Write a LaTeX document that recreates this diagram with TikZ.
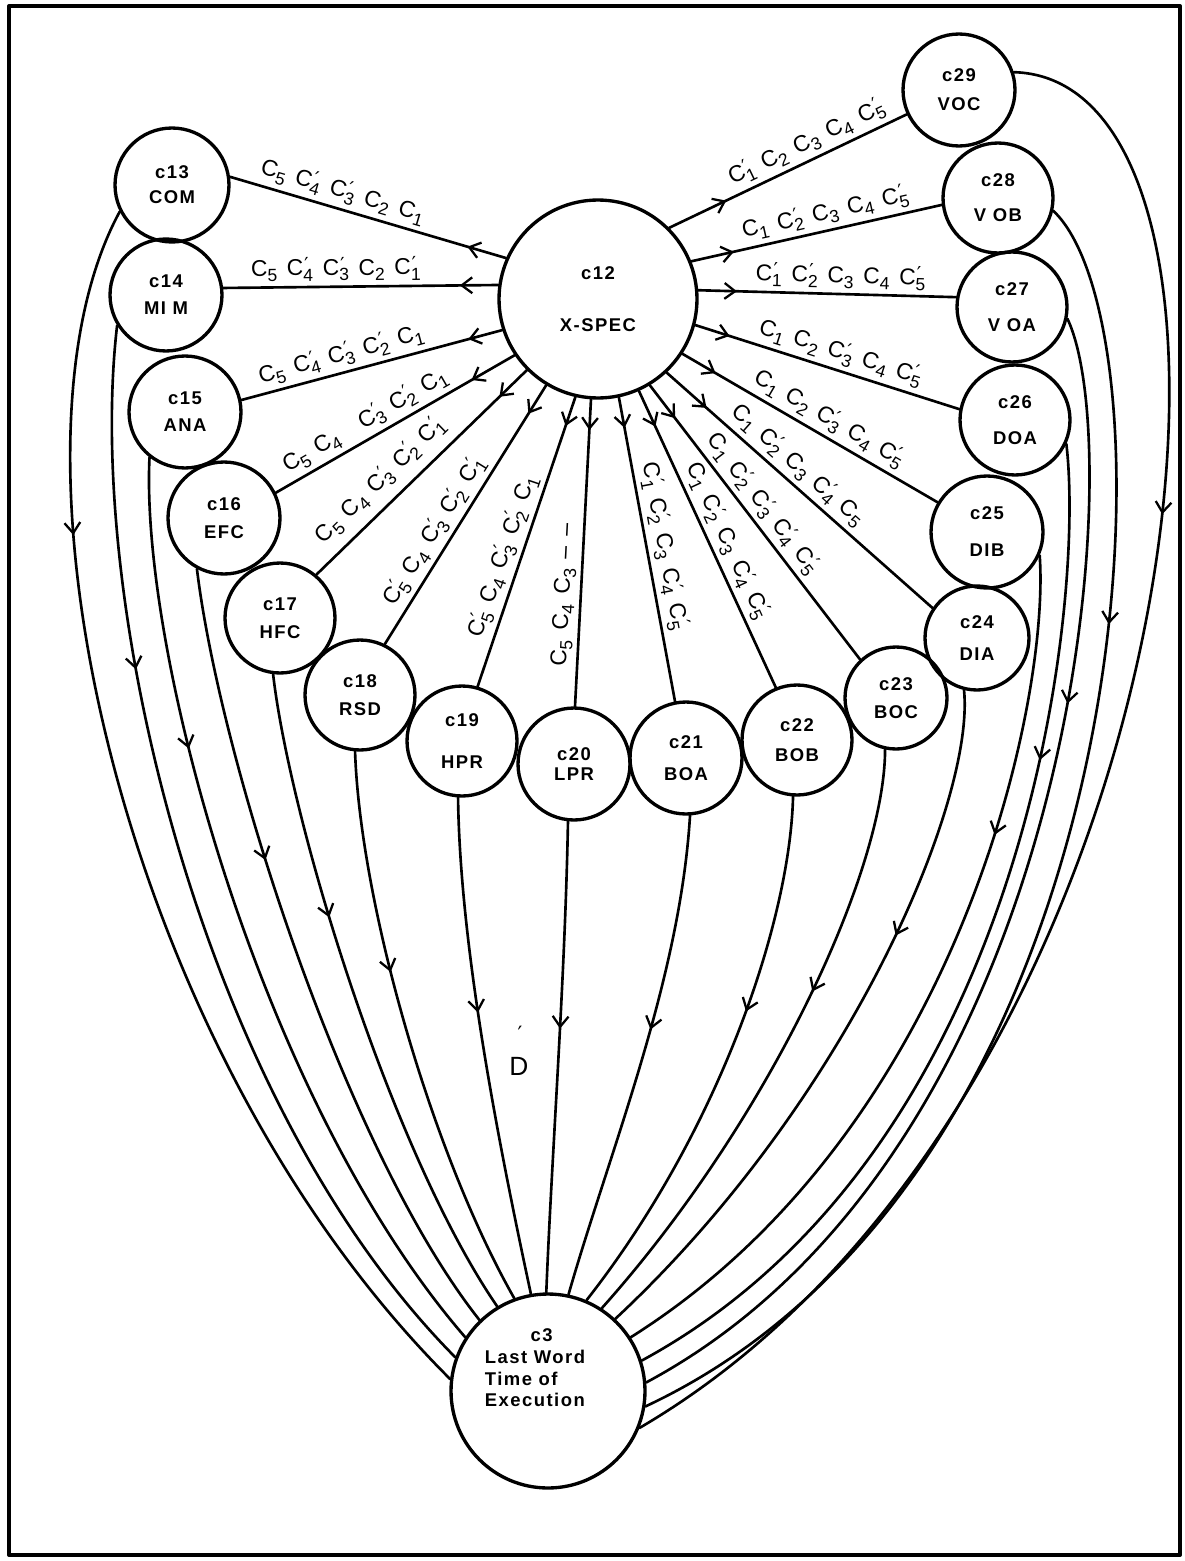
\documentclass[tikz,border=0pt]{standalone}
\usepackage{fontspec}
\setmainfont{Liberation Sans}
\newfontfamily\nodesans{Liberation Sans}[LetterSpace=8]
\newfontfamily\primefont{DejaVu Sans}
\usetikzlibrary{arrows.meta,decorations.markings}

% condition symbols: plain C_i and primed C'_i
\newcommand{\subdig}[1]{\raisebox{-0.45ex}{\fontsize{10}{10}\selectfont #1}}
\newcommand{\Cn}[1]{C\subdig{#1}}
\newcommand{\Cq}[1]{C\rlap{\kern0.6pt\raisebox{0.35ex}{\primefont\fontsize{11}{11}\selectfont\char"2032}}\subdig{#1}}
\newcommand{\lsp}{\hspace{0.42em}}
\newcommand{\twoline}[3]{#1\\[#3]#2}

\tikzset{
  circ/.style={circle, draw, line width=1.9pt, inner sep=0pt, minimum size=#1,
    align=center, font=\nodesans\bfseries\fontsize{10.5}{12}\selectfont},
  barb/.style={postaction={decorate},
    decoration={markings, mark=at position #1 with
      {\arrow{Straight Barb[length=6pt,width=9pt,line width=1.3pt]}}}},
  spoke/.style={line width=1.5pt, barb=#1},
  flow/.style={line width=1.5pt, barb=#1},
  lbl/.style={sloped, above, inner sep=2.5pt, font=\fontsize{13}{15}\selectfont},
}

\begin{document}
\begin{tikzpicture}[x=0.02cm, y=-0.02cm, line cap=round, line join=round]
\useasboundingbox (0,0) rectangle (1185,1561);
\draw[line width=2.3pt] (9,6) rectangle (1180,1555);

% central specification node and the target node
\node[circ=3.96cm] (c12) at (598,299) {\twoline{c12}{X-SPEC}{17.5pt}};
\node[circ=3.88cm] (c3) at (548,1391) {};
\node[font=\nodesans\bfseries\fontsize{10.5}{12.3}\selectfont, align=left]
  (c3text) at (535,1368) {\hspace*{26pt}c3\\Last Word\\Time of\\Execution};

% ring of attribute nodes
\node[circ=2.28cm] (c13) at (172,185) {\twoline{c13}{COM}{2.2pt}};
\node[circ=2.24cm] (c14) at (166,295) {\twoline{c14}{MI M}{3.3pt}};
\node[circ=2.24cm] (c15) at (185,412) {\twoline{c15}{ANA}{3.3pt}};
\node[circ=2.24cm] (c16) at (224,518) {\twoline{c16}{EFC}{3.9pt}};
\node[circ=2.20cm] (c17) at (280,618) {\twoline{c17}{HFC}{3.9pt}};
\node[circ=2.20cm] (c18) at (360,695) {\twoline{c18}{RSD}{3.9pt}};
\node[circ=2.20cm] (c19) at (462,741) {\twoline{c19}{HPR}{11.8pt}};
\node[circ=2.24cm] (c20) at (574,764) {\twoline{c20}{LPR}{-0.7pt}};
\node[circ=2.24cm] (c21) at (686,758) {\twoline{c21}{BOA}{6.1pt}};
\node[circ=2.20cm] (c22) at (797,740) {\twoline{c22}{BOB}{5pt}};
\node[circ=2.04cm] (c23) at (896,698) {\twoline{c23}{BOC}{3.9pt}};
\node[circ=2.08cm] (c24) at (977,638) {\twoline{c24}{DIA}{6.7pt}};
\node[circ=2.24cm] (c25) at (987,532) {\twoline{c25}{DIB}{9pt}};
\node[circ=2.20cm] (c26) at (1015,420) {\twoline{c26}{DOA}{8.4pt}};
\node[circ=2.20cm] (c27) at (1012,307) {\twoline{c27}{V OA}{8.4pt}};
\node[circ=2.20cm] (c28) at (998,198) {\twoline{c28}{V OB}{7.8pt}};
\node[circ=2.24cm] (c29) at (959,90) {\twoline{c29}{VOC}{4.4pt}};

% spokes from X-SPEC with their condition strings
\draw[spoke=0.14] (c12.156.6) -- node[lbl,pos=0.61]{\Cn5\lsp\Cq4\lsp\Cq3\lsp\Cn2\lsp\Cn1} (c13.8);
\draw[spoke=0.14] (c12.172.9) -- node[lbl,pos=0.59]{\Cn5\lsp\Cq4\lsp\Cq3\lsp\Cn2\lsp\Cq1} (c14.7);
\draw[spoke=0.13] (c12.198.4) -- node[lbl,pos=0.60]{\Cn5\lsp\Cq4\lsp\Cq3\lsp\Cq2\lsp\Cn1} (c15.12);
\draw[spoke=0.18] (c12.214.9) -- node[lbl,pos=0.59]{\Cn5\lsp\Cn4\hspace{1.1em}\Cq3\lsp\Cq2\lsp\Cn1} (c16.26);
\draw[spoke=0.13] (c12.225.4) -- node[lbl,pos=0.62,inner sep=5.5pt]{\Cn5\lsp\Cn4\lsp\Cq3\lsp\Cq2\lsp\Cq1} (c17.50);
\draw[spoke=0.11] (c12.239.2) -- node[lbl,pos=0.60]{\Cq5\lsp\Cn4\lsp\Cq3\lsp\Cq2\lsp\Cq1} (c18.64);
\draw[spoke=0.10] (c12.257.2) -- node[lbl,pos=0.57]{\Cq5\lsp\Cn4\lsp\Cq3\lsp\Cq2\lsp\Cn1} (c19.74);
\draw[spoke=0.10] (c12.266.6) -- node[lbl,pos=0.64]{\Cn5\lsp\Cn4\lsp\Cn3\lsp--\lsp--} (c20.89);
\draw[spoke=0.10] (c12.282.5) -- node[lbl,pos=0.50]{\Cq1\lsp\Cq2\lsp\Cn3\lsp\Cq4\lsp\Cq5} (c21.101);
\draw[spoke=0.12] (c12.294.8) -- node[lbl,pos=0.53]{\Cn1\lsp\Cq2\lsp\Cn3\lsp\Cq4\lsp\Cq5} (c22.112);
\draw[spoke=0.12] (c12.301.2) -- node[lbl,pos=0.47]{\Cn1\lsp\Cq2\lsp\Cq3\lsp\Cq4\lsp\Cq5} (c23.133);
\draw[spoke=0.15] (c12.313.4) -- node[lbl,pos=0.45]{\Cn1\lsp\Cq2\lsp\Cn3\lsp\Cq4\lsp\Cn5} (c24.146);
\draw[spoke=0.13] (c12.327.6) -- node[lbl,pos=0.54]{\Cn1\lsp\Cn2\lsp\Cq3\lsp\Cn4\lsp\Cq5} (c25.149);
\draw[spoke=0.13] (c12.345) -- node[lbl,pos=0.53]{\Cn1\lsp\Cn2\lsp\Cq3\lsp\Cn4\lsp\Cq5} (c26.169);
\draw[spoke=0.15] (c12.5.3) -- node[lbl,pos=0.55]{\Cq1\lsp\Cq2\lsp\Cn3\lsp\Cn4\lsp\Cq5} (c27.170);
\draw[spoke=0.17] (c12.22.4) -- node[lbl,pos=0.55]{\Cn1\lsp\Cq2\lsp\Cn3\lsp\Cn4\lsp\Cq5} (c28.187);
\draw[spoke=0.24] (c12.45) -- node[lbl,pos=0.61]{\Cq1\lsp\Cn2\lsp\Cn3\lsp\Cn4\lsp\Cq5} (c29.205);

% flows from every attribute node down to c3
\draw[flow=0.26] (c13.207) .. controls (-10,450) and (120,1050) .. (c3.173);
\draw[flow=0.31] (c14.212) .. controls (85,600) and (200,1100) .. (c3.160);
\draw[flow=0.31] (c15.232) .. controls (140,650) and (260,1100) .. (c3.147);
\draw[flow=0.37] (c16.242) .. controls (220,760) and (345,1150) .. (c3.134);
\draw[flow=0.37] (c17.263) .. controls (290,820) and (390,1150) .. (c3.121);
\draw[flow=0.39] (c18.265) .. controls (360,900) and (430,1150) .. (c3.110);
\draw[flow=0.43] (c19.266) .. controls (460,950) and (500,1150) .. (c3.100);
\draw[flow=0.44] (c20.264) .. controls (565,980) and (552,1150) .. (c3.91);
\draw[flow=0.44] (c21.274) .. controls (680,980) and (610,1150) .. (c3.78);
\draw[flow=0.40] (c22.266) .. controls (790,920) and (720,1130) .. (c3.67);
\draw[flow=0.40] (c23.258) .. controls (885,870) and (770,1120) .. (c3.57);
\draw[flow=0.35] (c24.256) .. controls (975,800) and (850,1100) .. (c3.47);
\draw[flow=0.31] (c25.336) .. controls (1050,700) and (960,1130) .. (c3.33);
\draw[flow=0.30] (c26.335) .. controls (1085,600) and (1030,1150) .. (c3.18);
\draw[flow=0.32] (c27.348) .. controls (1130,450) and (1080,1150) .. (c3.5);
\draw[flow=0.31] (c28.347) .. controls (1180,330) and (1150,1170) .. (c3.-9);
\draw[flow=0.32] (c29.18) .. controls (1300,80) and (1200,1100) .. (c3.-22);

% the D mark below the fan
\node[font=\fontsize{15}{18}\selectfont] (dlabel) at (519,1066) {D};
\node[font=\fontsize{12}{14}\selectfont\primefont] (dtick) at (520,1034) {\char"2032};
\end{tikzpicture}
\end{document}
